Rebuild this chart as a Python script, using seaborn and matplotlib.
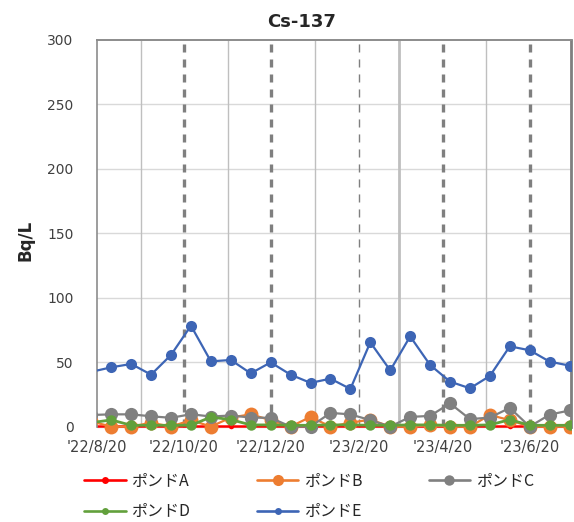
import matplotlib
matplotlib.use("Agg")
import matplotlib.pyplot as plt
from matplotlib.lines import Line2D
import seaborn as sns
import pandas as pd

# ---------------- data ----------------
dates = ["2022-08-16", "2022-08-30", "2022-09-13", "2022-09-27", "2022-10-11",
         "2022-10-25", "2022-11-08", "2022-11-22", "2022-12-06", "2022-12-20",
         "2023-01-03", "2023-01-17", "2023-01-31", "2023-02-14", "2023-02-28",
         "2023-03-14", "2023-03-28", "2023-04-11", "2023-04-25", "2023-05-09",
         "2023-05-23", "2023-06-06", "2023-06-20", "2023-07-04", "2023-07-18"]

pond_a = [0.5, 0.5, 0.5, 0.5, 0.5, 0.5, 0.5, 0.5, 0.5, 0.5, 0.5, 0.5, 0.5,
          0.5, 0.5, 0.5, 0.5, 0.5, 0.5, 0.5, 0.5, 0.5, 0.5, 0.5, 0.5]
pond_b = [4, 0, 0, 3, 0, 5, 0, 7, 9.5, 5, 0, 7.5, 0, 3, 5.4, 0, 0, 1, 0, 0, 9, 5, 0, 0, 0]
pond_c = [9, 9.5, 9.5, 8, 6.8, 9.6, 7.8, 8.6, 7, 6.8, 0, 0, 10.6, 9.5, 5, 0, 7.5, 8.3,
          18, 5.8, 7, 14.5, 0, 9.3, 12.5]
pond_d = [3, 5.2, 1, 1, 1, 1, 7.4, 5.4, 1.3, 1.3, 1, 1, 1.3, 1.3, 1, 1, 1.3, 1.3, 1, 1,
          1.3, 5.4, 1, 1, 1]
pond_e = [42.5, 46, 48.6, 40.3, 55.6, 78.3, 50.6, 51.7, 41.3, 49.8, 40.3, 33.9, 37.2,
          29.2, 65.4, 43.6, 70, 47.8, 34.9, 29.7, 39.3, 62.3, 59.2, 50.4, 47.3]

series_names = ["ポンドA", "ポンドB", "ポンドC", "ポンドD", "ポンドE"]
series_values = [pond_a, pond_b, pond_c, pond_d, pond_e]

xtick_dates = ["2022-08-20", "2022-10-20", "2022-12-20", "2023-02-20", "2023-04-20", "2023-06-20"]
xtick_labels = ["'22/8/20", "'22/10/20", "'22/12/20", "'23/2/20", "'23/4/20", "'23/6/20"]
yticks = [0, 50, 100, 150, 200, 250, 300]

month_grid = ["2022-09-20", "2022-11-20", "2023-01-20", "2023-05-20"]
thick_grid = ["2023-03-20"]
dash_thick = ["2022-10-20", "2022-12-20", "2023-04-20", "2023-06-20"]
dash_thin = ["2023-02-20"]

# ---------------- style ----------------
colors = ["#FF0000", "#ED7D31", "#808080", "#62A03C", "#3D65B5"]
msizes = [4, 10, 9.5, 7.5, 8]
lwidths = [1.8, 1.6, 1.6, 2.0, 1.6]
leg_msizes = [5, 8, 7.5, 5, 5]

sns.set_style("white")
plt.rcParams["font.family"] = ["DejaVu Sans", "Noto Sans CJK JP"]

rows = []
for name, vals in zip(series_names, series_values):
    for d, v in zip(dates, vals):
        rows.append({"date": pd.Timestamp(d), "value": v, "series": name})
df = pd.DataFrame(rows)

fig = plt.figure(figsize=(5.74, 5.22), dpi=100)
ax = fig.add_axes([0.169, 0.1655, 0.8258, 0.7579])

ymin = -7
ax.set_ylim(ymin, 300)
ax.set_xlim(pd.Timestamp("2022-08-20"), pd.Timestamp("2023-07-19"))

# horizontal gridlines
for yv in [0, 50, 100, 150, 200, 250]:
    ax.axhline(yv, color="#D9D9D9", lw=1.0, zorder=0)

# vertical lines
ax.vlines([pd.Timestamp(d) for d in month_grid], 0, 300, color="#BFBFBF", lw=1.0, zorder=0.5)
ax.vlines([pd.Timestamp(d) for d in thick_grid], 0, 300, color="#BFBFBF", lw=2.0, zorder=0.5)
ax.vlines([pd.Timestamp(d) for d in dash_thick], 0, 300, color="#7F7F7F", lw=2.4,
          linestyles=[(0, (2.4, 2.1))], zorder=0.6)
ax.vlines([pd.Timestamp(d) for d in dash_thin], 0, 300, color="#7F7F7F", lw=1.0,
          linestyles=[(0, (5.8, 5.0))], zorder=0.6)

for i, name in enumerate(series_names):
    sub = df[df["series"] == name]
    sns.lineplot(data=sub, x="date", y="value", color=colors[i], marker="o",
                 markersize=msizes[i], linewidth=lwidths[i], markeredgewidth=0,
                 ax=ax, legend=False, zorder=2 + i)

# spines
ax.spines["bottom"].set_visible(False)
ax.spines["left"].set_bounds(0, 300)
ax.spines["left"].set_color("#8C8C8C")
ax.spines["left"].set_linewidth(1.2)
ax.spines["right"].set_bounds(0, 300)
ax.spines["right"].set_color("#7F7F7F")
ax.spines["right"].set_linewidth(2.0)
ax.spines["top"].set_color("#8C8C8C")
ax.spines["top"].set_linewidth(1.4)

ax.set_yticks(yticks)
ax.set_yticklabels([str(v) for v in yticks])
ax.set_xticks([pd.Timestamp(d) for d in xtick_dates])
ax.set_xticklabels(xtick_labels)
ax.tick_params(axis="y", length=0, pad=17, labelsize=10, labelcolor="#404040")
ax.tick_params(axis="x", length=0, pad=3, labelsize=10.5, labelcolor="#404040")
ax.set_xlabel("")
ax.set_ylabel("")

fig.text(0.526, 0.957, "Cs-137", ha="center", va="center", fontsize=13, fontweight="bold")
fig.text(0.044, 0.54, "Bq/L", ha="center", va="center", rotation=90, fontsize=12,
         fontweight="bold")

handles = []
for i, name in enumerate(series_names):
    handles.append(Line2D([0], [0], color=colors[i], lw=1.9, marker="o",
                          markersize=leg_msizes[i], markeredgewidth=0))
order = [0, 3, 1, 4, 2]
leg = fig.legend([handles[k] for k in order], [series_names[k] for k in order],
                 ncol=3, loc="upper left", bbox_to_anchor=(0.122, 0.122),
                 frameon=False, handlelength=2.6, handletextpad=0.35,
                 columnspacing=4.15, labelspacing=0.85,
                 prop={"family": ["Noto Sans CJK JP"], "size": 11.5})

fig.savefig("out.png", dpi=100)
